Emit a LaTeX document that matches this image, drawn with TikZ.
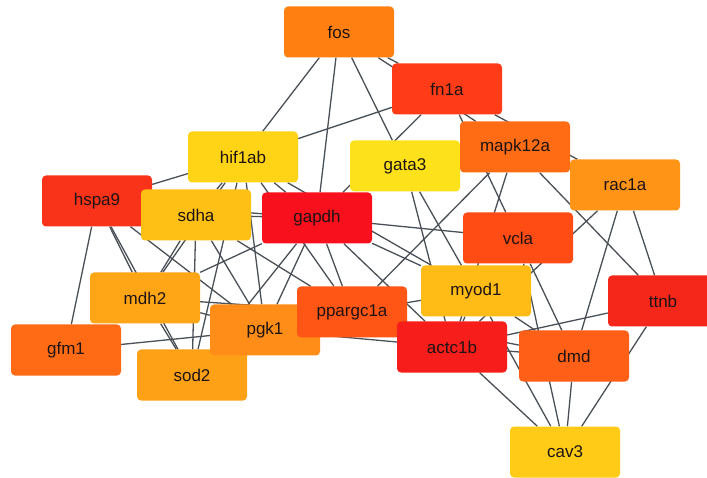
\documentclass[tikz,border=0pt]{standalone}
\usepackage{fontspec}
\setmainfont{Liberation Sans}
\usetikzlibrary{backgrounds}

% node fills, from yellow (low score) to red (high score)
\definecolor{cfos}{HTML}{FF7F11}
\definecolor{cfnA}{HTML}{FF3C17}
\definecolor{chif}{HTML}{FFD416}
\definecolor{cgata}{HTML}{FDE11A}
\definecolor{cmapk}{HTML}{FF6C13}
\definecolor{crac}{HTML}{FF9416}
\definecolor{chspa}{HTML}{F8331A}
\definecolor{csdha}{HTML}{FFC016}
\definecolor{cgapdh}{HTML}{F8101D}
\definecolor{cvcla}{HTML}{FF4B14}
\definecolor{cmdh}{HTML}{FFA617}
\definecolor{cmyod}{HTML}{FFBC16}
\definecolor{cttnb}{HTML}{F5261A}
\definecolor{cpgk}{HTML}{FF8D18}
\definecolor{cppar}{HTML}{FF5515}
\definecolor{cgfm}{HTML}{FF6B15}
\definecolor{csod}{HTML}{FFA117}
\definecolor{cactc}{HTML}{F61D1A}
\definecolor{cdmd}{HTML}{FF5F16}
\definecolor{ccav}{HTML}{FFCB16}
\definecolor{labeltext}{HTML}{1E1414}
\definecolor{linkgray}{HTML}{4A5057}

\tikzset{
  gene/.style={rectangle, rounded corners=4pt, minimum width=110pt,
    minimum height=51pt, inner sep=0pt, text=labeltext,
    font=\fontsize{17}{20}\selectfont},
  link/.style={draw=linkgray, line width=1.3pt}
}

\begin{document}
\begin{tikzpicture}[x=1pt, y=-1pt]
\useasboundingbox (0,0) rectangle (707,478);

% genes
\node[gene, fill=cfos]   (fos)      at (339,32)  {fos};
\node[gene, fill=cfnA]   (fn1a)     at (447,89)  {fn1a};
\node[gene, fill=chif]   (hif1ab)   at (243,157) {hif1ab};
\node[gene, fill=cgata]  (gata3)    at (405,166) {gata3};
\node[gene, fill=cmapk]  (mapk12a)  at (515,147) {mapk12a};
\node[gene, fill=crac]   (rac1a)    at (625,185) {rac1a};
\node[gene, fill=chspa]  (hspa9)    at (97,201)  {hspa9};
\node[gene, fill=csdha]  (sdha)     at (196,215) {sdha};
\node[gene, fill=cgapdh] (gapdh)    at (317,218) {gapdh};
\node[gene, fill=cvcla]  (vcla)     at (518,238) {vcla};
\node[gene, fill=cmdh]   (mdh2)     at (145,298) {mdh2};
\node[gene, fill=cmyod]  (myod1)    at (476,291) {myod1};
\node[gene, fill=cttnb]  (ttnb)     at (663,301) {ttnb};
\node[gene, fill=csod]   (sod2)     at (192,375) {sod2};
\node[gene, fill=cpgk]   (pgk1)     at (265,330) {pgk1};
\node[gene, fill=cppar]  (ppargc1a) at (352,312) {ppargc1a};
\node[gene, fill=cgfm]   (gfm1)     at (66,350)  {gfm1};
\node[gene, fill=cactc]  (actc1b)   at (452,347) {actc1b};
\node[gene, fill=cdmd]   (dmd)      at (574,356) {dmd};
\node[gene, fill=ccav]   (cav3)     at (565,452) {cav3};

% interactions, drawn behind the boxes
\begin{scope}[on background layer]
\fill[white] (0,0) rectangle (707,478);
\foreach \a/\b in {
  fos/hif1ab, fos/gapdh, fos/gata3, fos/fn1a, fos/mapk12a,
  fn1a/hif1ab, fn1a/gapdh, fn1a/vcla, fn1a/rac1a,
  hif1ab/hspa9, hif1ab/sdha, hif1ab/mdh2, hif1ab/sod2, hif1ab/pgk1,
  hif1ab/ppargc1a, hif1ab/gapdh, hif1ab/myod1,
  gata3/myod1, gata3/actc1b,
  mapk12a/actc1b, mapk12a/ppargc1a, mapk12a/ttnb,
  rac1a/actc1b, rac1a/dmd, rac1a/ttnb,
  hspa9/gfm1, hspa9/mdh2, hspa9/sod2, hspa9/pgk1, hspa9/gapdh,
  sdha/gapdh, sdha/mdh2, sdha/sod2, sdha/pgk1, sdha/ppargc1a,
  gapdh/vcla, gapdh/mdh2, gapdh/pgk1, gapdh/sod2, gapdh/ppargc1a,
  gapdh/actc1b, gapdh/myod1,
  mdh2/pgk1, mdh2/ppargc1a, mdh2/sod2,
  gfm1/pgk1, pgk1/actc1b,
  ppargc1a/myod1, ppargc1a/dmd,
  myod1/actc1b, myod1/dmd, myod1/cav3,
  vcla/dmd, vcla/cav3,
  actc1b/dmd, actc1b/cav3, actc1b/ttnb,
  dmd/cav3, ttnb/cav3}
  \draw[link] (\a) -- (\b);
\end{scope}
\end{tikzpicture}
\end{document}
